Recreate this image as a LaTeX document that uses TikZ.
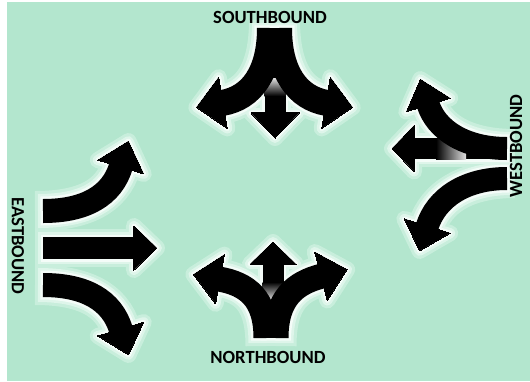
\documentclass[tikz,border=0pt]{standalone}
\usepackage{fontspec}
\setmainfont{Carlito}
\usetikzlibrary{decorations.markings}

\definecolor{mint}{RGB}{179,230,206}
\definecolor{glowA}{RGB}{200,238,220}
\definecolor{glowB}{RGB}{222,245,234}
\definecolor{glowC}{RGB}{244,252,248}
\definecolor{fadegray}{RGB}{225,225,225}
\colorlet{gcol}{black}

% current halo offset (0pt for the black arrows themselves)
\newlength\glw

% #1 path, #2 shaft width, #3 head width, #4 head length
\newcommand\arr[4]{%
  \draw[draw=gcol, line width={#2+2*\glw}, shorten <=-\glw,
    postaction={decorate, decoration={markings, mark=at position 0.9999 with {
      \filldraw[draw=gcol, fill=gcol, line width=2*\glw, line join=round]
        (-1pt,{-(#3)/2}) -- (#4,0pt) -- (-1pt,{(#3)/2}) -- cycle;}}}] #1;}

% straight arrows that leave each fork
\newcommand\centerarrows{%
  \arr{(275,70) -- (275,114)}{21pt}{48pt}{24pt}
  \arr{(273,310) -- (273,263)}{21pt}{46pt}{21pt}
  \arr{(495,148.5) -- (413,148.5)}{21pt}{46pt}{21pt}
}

% curved and straight arms
\newcommand\armarrows{%
  % southbound
  \arr{(270,28) .. controls (270,72) and (252,98) .. (222,103)}{26pt}{52pt}{26pt}
  \arr{(279,28) .. controls (279,72) and (297,98) .. (327,103)}{26pt}{52pt}{26pt}
  % northbound
  \arr{(266,338) .. controls (266,298) and (247,284) .. (219,279)}{25pt}{50pt}{26pt}
  \arr{(276,338) .. controls (276,298) and (295,283) .. (322,276)}{25pt}{50pt}{26pt}
  % eastbound
  \arr{(43,211) .. controls (85,211) and (112,196) .. (121,166)}{24pt}{48pt}{26pt}
  \arr{(43,248) -- (135,248)}{22pt}{44pt}{22pt}
  \arr{(43,285) .. controls (85,285) and (112,300) .. (121,330)}{24pt}{48pt}{26pt}
  % westbound
  \arr{(507,148.5) .. controls (465,148.5) and (436,130) .. (428,104)}{23pt}{46pt}{26pt}
  \arr{(507,178.5) .. controls (465,178.5) and (436,198) .. (427,227)}{23pt}{48pt}{25pt}
}

\tikzset{dirlabel/.style={font=\fontsize{18.6}{20}\selectfont\bfseries, inner sep=0pt}}

\begin{document}
\begin{tikzpicture}[x=1pt, y=-1pt]
  \useasboundingbox (0,0) rectangle (530,381);
  \fill[white] (0,0) rectangle (530,381);
  \fill[mint] (7,2) rectangle (530,381);

  % soft white halo, widest first
  \foreach \off/\col in {8/glowA, 5/glowB, 2.5/glowC} {
    \setlength\glw{\off pt}\colorlet{gcol}{\col}
    \centerarrows
    \armarrows
  }

  % the arrows
  \setlength\glw{0pt}\colorlet{gcol}{black}
  \centerarrows
  % fades where the straight arrows leave the forks
  \shade[top color=fadegray, bottom color=black] (264.5,78) rectangle (285.5,96);
  \shade[top color=black, bottom color=fadegray] (262.5,282) rectangle (283.5,300);
  \shade[left color=black, right color=fadegray] (436,138) rectangle (466,159);
  \armarrows

  % labels
  \node[dirlabel] (sb) at (270,17) {SOUTHBOUND};
  \node[dirlabel] (nb) at (268,357) {NORTHBOUND};
  \node[dirlabel, rotate=-90] (eb) at (18,246) {EASTBOUND};
  \node[dirlabel, rotate=90] (wb) at (516,146) {WESTBOUND};
\end{tikzpicture}
\end{document}
